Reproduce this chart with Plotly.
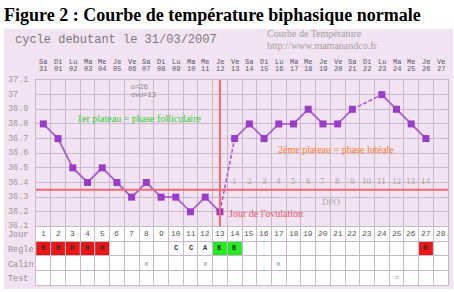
import plotly.graph_objects as go

# ---------------- data ----------------
days = list(range(1, 29))
weekdays = ["Sa", "Di", "Lu", "Ma", "Me", "Je", "Ve"] * 4
dates = ["31"] + [f"{i:02d}" for i in range(1, 28)]
temps = [36.8, 36.7, 36.5, 36.4, 36.5, 36.4, 36.3, 36.4, 36.3, 36.3, 36.2, 36.3,
         36.2, 36.7, 36.8, 36.7, 36.8, 36.8, 36.9, 36.8, 36.8, 36.9, None, 37.0,
         36.9, 36.8, 36.7, None]
dashed_links = [(13, 14), (22, 24)]
ovulation_day = 13
coverline = 36.35
temp_ticks = [37.1, 37.0, 36.9, 36.8, 36.7, 36.6, 36.5, 36.4, 36.3, 36.2, 36.1]
temp_tick_labels = ["37.1", "37", "36.9", "36.8", "36.7", "36.6", "36.5", "36.4",
                    "36.3", "36.2", "36.1"]
dpo_days = list(range(14, 28))
dpo_labels = [str(i) for i in range(1, 15)]
row_labels = ["Jour", "Regle", "Calin", "Test"]
row_centers = [36.05, 35.95, 35.85, 35.75]
regle_days = [1, 2, 3, 4, 5, 10, 11, 12, 13, 14, 27]
regle_codes = ["R", "R", "R", "R", "R", "C", "C", "A", "B", "B", "R"]
calin_days = [8, 12, 17]
test_days = [25]
test_marks = ["="]

# ---------------- styles ----------------
PINK = "#F1E3F1"
GRID = "#C6B9C9"
PURPLE_M = "#9B3CC8"
PURPLE_L = "#A85ED2"
RED_LINE = "#F06A72"
MONO = "Liberation Mono, DejaVu Sans Mono, monospace"
SERIF = "Liberation Serif, DejaVu Serif, serif"
cell_colors = {"R": "#EE1515", "B": "#22EE22"}

fig = go.Figure()

# solid line segments (broken at dashed links and missing values)
link_ends = {b for a, b in dashed_links}
sx, sy = [], []
for d, t in zip(days, temps):
    if d in link_ends:
        sx.append(None); sy.append(None)
    sx.append(d); sy.append(t)
fig.add_trace(go.Scatter(x=sx, y=sy, mode="lines", connectgaps=False,
                         line=dict(color=PURPLE_L, width=1.8), hoverinfo="skip"))
dx, dy = [], []
for a, b in dashed_links:
    dx += [a, b, None]
    dy += [temps[a - 1], temps[b - 1], None]
fig.add_trace(go.Scatter(x=dx, y=dy, mode="lines",
                         line=dict(color=PURPLE_L, width=1.6, dash="4px,2px"),
                         hoverinfo="skip"))
fig.add_trace(go.Scatter(x=days, y=temps, mode="markers",
                         marker=dict(symbol="square", size=7, color=PURPLE_M)))

shapes = []
# pink chart background
shapes.append(dict(type="rect", xref="paper", yref="paper", x0=-0.078, x1=1.012,
                   y0=-0.02, y1=1.25, fillcolor=PINK, line_width=0, layer="below"))
# white table area
shapes.append(dict(type="rect", xref="x", yref="y", x0=0.5, x1=28.5, y0=35.7, y1=36.1,
                   fillcolor="white", line_width=0, layer="below"))
# regle coloured cells
for d, c in zip(regle_days, regle_codes):
    if c in cell_colors:
        shapes.append(dict(type="rect", xref="x", yref="y", x0=d - 0.46, x1=d + 0.46,
                           y0=35.905, y1=35.995, fillcolor=cell_colors[c],
                           line=dict(color="#C81010" if c == "R" else "#22CC22", width=0.6),
                           layer="below"))
# coverline and ovulation line
shapes.append(dict(type="line", xref="x", yref="y", x0=0.5, x1=28.5, y0=coverline,
                   y1=coverline, line=dict(color=RED_LINE, width=2)))
shapes.append(dict(type="line", xref="x", yref="y", x0=ovulation_day, x1=ovulation_day,
                   y0=36.1, y1=37.1, line=dict(color=RED_LINE, width=2)))

ann = []
ann.append(dict(text="<b>Figure 2 : Courbe de température biphasique normale</b>",
                xref="paper", yref="paper", x=-0.083, y=1.318, xanchor="left",
                yanchor="middle", showarrow=False,
                font=dict(family=SERIF, size=18, color="black")))
ann.append(dict(text="cycle debutant le 31/03/2007", xref="paper", yref="paper",
                x=-0.055, y=1.195, xanchor="left", yanchor="middle", showarrow=False,
                font=dict(family=MONO, size=12, color="#7A7A7A")))
ann.append(dict(text="Courbe de Température", xref="paper", yref="paper",
                x=0.556, y=1.227, xanchor="left", yanchor="middle", showarrow=False,
                font=dict(family=SERIF, size=10, color="#A0A0A0")))
ann.append(dict(text="http://www.mamanandco.fr", xref="paper", yref="paper",
                x=0.556, y=1.168, xanchor="left", yanchor="middle", showarrow=False,
                font=dict(family=SERIF, size=10, color="#A0A0A0")))
for d, w, dt in zip(days, weekdays, dates):
    ann.append(dict(text=w, xref="x", yref="paper", x=d, y=1.089, showarrow=False,
                    yanchor="middle", font=dict(family=MONO, size=7, color="#55556A")))
    ann.append(dict(text=dt, xref="x", yref="paper", x=d, y=1.052, showarrow=False,
                    yanchor="middle", font=dict(family=MONO, size=7, color="#55556A")))
for v, lab in zip(temp_ticks, temp_tick_labels):
    ann.append(dict(text=lab, xref="paper", yref="y", x=-0.073, y=v, xanchor="left",
                    yanchor="middle", showarrow=False,
                    font=dict(family=MONO, size=8.5, color="#9A9A9A")))
for lab, yc in zip(row_labels, row_centers):
    ann.append(dict(text=lab, xref="paper", yref="y", x=-0.073, y=yc - 0.01,
                    xanchor="left", yanchor="middle", showarrow=False,
                    font=dict(family=MONO, size=8.5, color="#8E8E8E")))
for d in days:
    ann.append(dict(text=str(d), xref="x", yref="y", x=d, y=36.05, showarrow=False,
                    yanchor="middle", font=dict(family=MONO, size=8, color="#555555")))
for d, c in zip(regle_days, regle_codes):
    ann.append(dict(text=f"<b>{c}</b>", xref="x", yref="y", x=d, y=35.95, showarrow=False,
                    yanchor="middle", font=dict(family=MONO, size=7, color="#333333")))
for d in calin_days:
    ann.append(dict(text="x", xref="x", yref="y", x=d, y=35.85, showarrow=False,
                    yanchor="middle", font=dict(family=MONO, size=8, color="#888888")))
for d, m in zip(test_days, test_marks):
    ann.append(dict(text=m, xref="x", yref="y", x=d, y=35.75, showarrow=False,
                    yanchor="middle", font=dict(family=MONO, size=7, color="#888888")))
for d, lab in zip(dpo_days, dpo_labels):
    ann.append(dict(text=lab, xref="x", yref="y", x=d, y=36.41, showarrow=False,
                    yanchor="middle", font=dict(family=SERIF, size=9, color="#A8A8A8")))
ann.append(dict(text="DPO", xref="x", yref="y", x=20.6, y=36.27, showarrow=False,
                yanchor="middle", font=dict(family=SERIF, size=9, color="#A8A8A8")))
ann.append(dict(text="Jour de l'ovulation", xref="x", yref="y", x=13.45, y=36.185,
                xanchor="left", yanchor="middle", showarrow=False,
                font=dict(family=SERIF, size=10, color="#F0506A")))
ann.append(dict(text="1er plateau = phase folliculaire", xref="x", yref="y", x=7.53,
                y=36.84, showarrow=False, yanchor="middle",
                font=dict(family=SERIF, size=10, color="#2ECC2E")))
ann.append(dict(text="2ème plateau = phase lutéale", xref="x", yref="y", x=20.9,
                y=36.625, showarrow=False, yanchor="middle",
                font=dict(family=SERIF, size=10, color="#FF7A2A")))
ann.append(dict(text="o=26", xref="x", yref="y", x=6.8, y=37.055,
                xanchor="left", yanchor="middle", showarrow=False,
                font=dict(family="Liberation Sans, sans-serif", size=7.5, color="#8A8A8A")))
ann.append(dict(text="ovu=13", xref="x", yref="y", x=6.8, y=37.0,
                xanchor="left", yanchor="middle", showarrow=False,
                font=dict(family="Liberation Sans, sans-serif", size=7.5, color="#8A8A8A")))

fig.update_layout(
    width=454, height=292, margin=dict(l=36, r=6, t=80, b=7),
    paper_bgcolor="white", plot_bgcolor="rgba(0,0,0,0)", showlegend=False,
    shapes=shapes, annotations=ann,
    xaxis=dict(range=[0.5, 28.5], tickvals=[i + 0.5 for i in range(0, 29)],
               showticklabels=False, ticks="", showgrid=True, gridcolor=GRID,
               gridwidth=1, zeroline=False, showline=True, mirror=True,
               linecolor=GRID, linewidth=1),
    yaxis=dict(range=[35.7, 37.1], tickvals=[round(35.7 + 0.1 * i, 2) for i in range(15)],
               showticklabels=False, ticks="", showgrid=True, gridcolor=GRID,
               gridwidth=1, zeroline=False, showline=True, mirror=True,
               linecolor=GRID, linewidth=1),
)
fig.write_html("out.html")
